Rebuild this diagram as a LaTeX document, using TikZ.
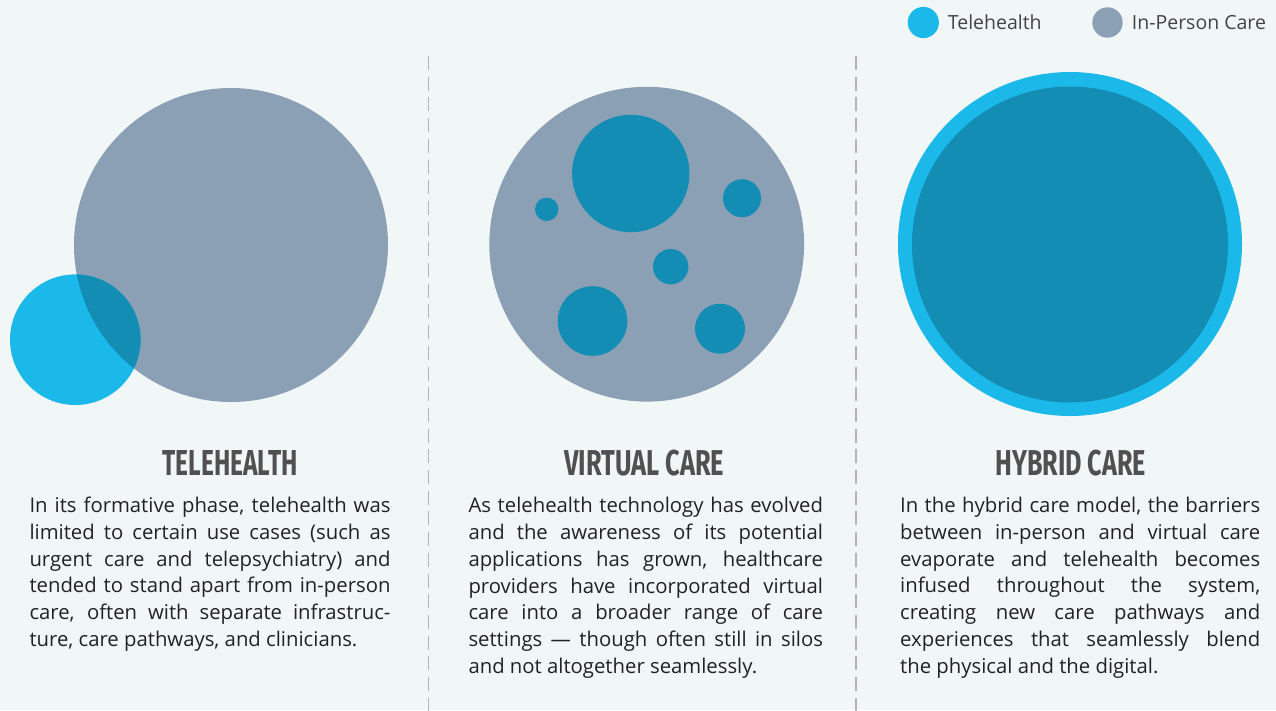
\documentclass[tikz,border=0pt]{standalone}
\usepackage{fontspec}
\usepackage{graphicx}
\setmainfont{Open Sans}
\newfontfamily\titlefont{Fira Sans}
\definecolor{bgc}{RGB}{241,247,247}
\definecolor{cyanT}{RGB}{27,185,234}
\definecolor{grayP}{RGB}{139,160,181}
\definecolor{darkB}{RGB}{19,141,180}
\definecolor{dashc}{RGB}{180,180,180}
\definecolor{titlec}{RGB}{80,80,80}
\definecolor{textc}{RGB}{34,34,34}
\newcommand{\bstr}{\rule[-6.5pt]{0pt}{26.5pt}}
\newcommand{\jl}[1]{\hbox to\hsize{\bstr#1}}
\newcommand{\lastl}[1]{\hbox{\bstr#1}}
\newcommand{\bodyfont}{\fontsize{20.3pt}{26.7pt}\selectfont}
\newcommand{\legfont}{\fontsize{19.5pt}{26.7pt}\selectfont}
\begin{document}
\begin{tikzpicture}[x=1pt,y=-1pt,
  disc/.style={circle,inner sep=0pt,outer sep=0pt,draw=none,minimum size=#1},
  sep/.style={draw=dashc,line width=1.3pt,dash pattern=on 14pt off 6.7pt},
  ttl/.style={anchor=base,inner sep=0pt,text=titlec},
  body/.style={anchor=north west,inner sep=0pt,text=textc,font=\bodyfont},
  leg/.style={anchor=base west,inner sep=0pt,text=textc!85!white,font=\legfont}]
\useasboundingbox (0,0) rectangle (1276,710);
\fill[bgc] (0,0) rectangle (1276,710);

% separators
\coordinate (s1a) at (428.7,56);
\coordinate (s1b) at (428.7,712);
\coordinate (s2a) at (856,56);
\coordinate (s2b) at (856,712);
\draw[sep] (s1a) -- (s1b);
\draw[sep] (s2a) -- (s2b);

% legend
\node[disc=31.2pt,fill=cyanT] (legT) at (923.3,22.5) {};
\node[leg] (legTt) at (947.7,29) {Telehealth};
\node[disc=30.4pt,fill=grayP] (legP) at (1107.5,22.5) {};
\node[leg] (legPt) at (1131.7,29) {In-Person Care};

% panel 1
\node[disc=314pt,fill=grayP] (p1big) at (231,245) {};
\node[disc=130.6pt,fill=cyanT] (p1small) at (75.3,339.7) {};
\begin{scope}
  \clip (231,245) circle[radius=157pt];
  \fill[darkB] (75.3,339.7) circle[radius=65.3pt];
\end{scope}

% panel 2
\node[disc=314.8pt,fill=grayP] (p2big) at (646.7,244.2) {};
\node[disc=117.4pt,fill=darkB] (p2a) at (630.8,173.5) {};
\node[disc=23.4pt,fill=darkB] (p2b) at (546.7,209.3) {};
\node[disc=38pt,fill=darkB] (p2c) at (742,198.2) {};
\node[disc=35.4pt,fill=darkB] (p2d) at (670.7,266.7) {};
\node[disc=69.6pt,fill=darkB] (p2e) at (592.5,321) {};
\node[disc=50pt,fill=darkB] (p2f) at (720,328.7) {};

% panel 3
\node[disc=344pt,fill=cyanT] (p3out) at (1070,244) {};
\node[disc=316pt,fill=darkB] (p3in) at (1070,244.5) {};

% titles
\node[ttl] (t1) at (230.2,475.3) {\resizebox{135pt}{25pt}{\titlefont\bfseries TELEHEALTH}};
\node[ttl] (t2) at (644.3,475.6) {\resizebox{160pt}{25.5pt}{\titlefont\bfseries VIRTUAL CARE}};
\node[ttl] (t3) at (1070.7,475.6) {\resizebox{150.7pt}{25.5pt}{\titlefont\bfseries HYBRID CARE}};

% body texts
\node[body] (b1) at (29.3,492.4) {\vbox{\hsize=361pt\baselineskip=26.75pt
\jl{In its formative phase, telehealth was}
\jl{limited to certain use cases (such as}
\jl{urgent care and telepsychiatry) and}
\jl{tended to stand apart from in-person}
\jl{care, often with separate infrastruc-}
\lastl{ture, care pathways, and clinicians.}}};

\node[body] (b2) at (468.3,492.7) {\vbox{\hsize=354.5pt\baselineskip=26.7pt
\jl{As telehealth technology has evolved}
\jl{and the awareness of its potential}
\jl{applications has grown, healthcare}
\jl{providers have incorporated virtual}
\jl{care into a broader range of care}
\jl{settings — though often still in silos}
\lastl{and not altogether seamlessly.}}};

\node[body] (b3) at (900,492.6) {\vbox{\hsize=360pt\baselineskip=26.7pt
\jl{In the hybrid care model, the barriers}
\jl{between in-person and virtual care}
\jl{evaporate and telehealth becomes}
\jl{infused throughout the system,}
\jl{creating new care pathways and}
\jl{experiences that seamlessly blend}
\lastl{the physical and the digital.}}};
\end{tikzpicture}
\end{document}
